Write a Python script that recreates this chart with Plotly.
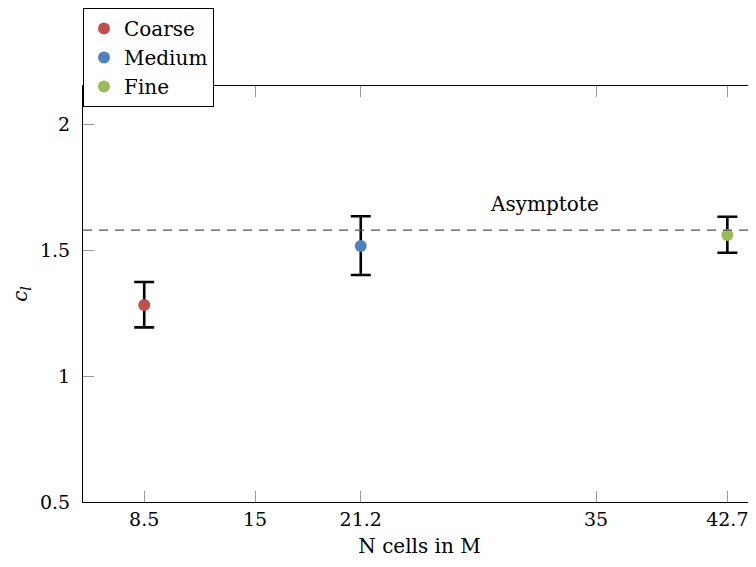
import plotly.graph_objects as go

# ---- data ----
GRID_NAMES = ["Coarse", "Medium", "Fine"]
N_CELLS = [8.5, 21.2, 42.7]          # millions of cells
CL_VALUES = [1.282, 1.516, 1.560]
CL_UPPER = [1.373, 1.634, 1.632]
CL_LOWER = [1.193, 1.401, 1.489]
ASYMPTOTE = 1.579
ASYMPTOTE_LABEL = "Asymptote"
ASYMPTOTE_LABEL_POS = (32.0, 1.683)

X_TICKS = [8.5, 15, 21.2, 35, 42.7]
X_TICK_TEXT = ["8.5", "15", "21.2", "35", "42.7"]
Y_TICKS = [0.5, 1, 1.5, 2]
Y_TICK_TEXT = ["0.5", "1", "1.5", "2"]
X_RANGE = [4.91, 44.38]
Y_RANGE = [0.5, 2.151]

COLORS = ["#c0504d", "#4f81bd", "#9bbb59"]
FONT = "DejaVu Serif"

fig = go.Figure()

for name, x, y, hi, lo, col in zip(GRID_NAMES, N_CELLS, CL_VALUES, CL_UPPER, CL_LOWER, COLORS):
    fig.add_trace(go.Scatter(
        x=[x], y=[y], name=name, mode="markers",
        marker=dict(color=col, size=12),
        error_y=dict(type="data", symmetric=False,
                     array=[hi - y], arrayminus=[y - lo],
                     color="black", thickness=2.6, width=10),
    ))

fig.add_hline(y=ASYMPTOTE, line=dict(color="#555555", width=1.3, dash="9px,7px"))

fig.add_annotation(x=ASYMPTOTE_LABEL_POS[0], y=ASYMPTOTE_LABEL_POS[1],
                   text=ASYMPTOTE_LABEL, showarrow=False,
                   xanchor="center", yanchor="middle",
                   font=dict(family=FONT, size=20, color="black"))

fig.update_layout(
    width=748, height=559,
    margin=dict(l=75, r=0, t=78, b=65),
    plot_bgcolor="white", paper_bgcolor="white",
    font=dict(family=FONT, size=20, color="black"),
    showlegend=True,
    legend=dict(x=0, y=1.1875, xanchor="left", yanchor="top",
                bgcolor="white", bordercolor="black", borderwidth=1,
                font=dict(family=FONT, size=20, color="black"),
                tracegroupgap=0, itemwidth=30),
)

fig.update_xaxes(
    range=X_RANGE, tickvals=X_TICKS, ticktext=X_TICK_TEXT,
    showgrid=False, zeroline=False,
    showline=True, linecolor="black", linewidth=1, mirror="ticks",
    ticks="inside", ticklen=11, tickcolor="#999999", tickwidth=1,
    tickfont=dict(family=FONT, size=19),
    title=dict(text="N cells in M", font=dict(family=FONT, size=20), standoff=10),
)
fig.update_yaxes(
    range=Y_RANGE, tickvals=Y_TICKS, ticktext=Y_TICK_TEXT,
    showgrid=False, zeroline=False,
    showline=True, linecolor="black", linewidth=1, mirror=False,
    ticks="inside", ticklen=11, tickcolor="#999999", tickwidth=1,
    tickfont=dict(family=FONT, size=19),
    ticklabelstandoff=8,
    title=dict(text="<i>c<sub>l</sub></i>", font=dict(family=FONT, size=20), standoff=12),
)

fig.write_html("out.html")
